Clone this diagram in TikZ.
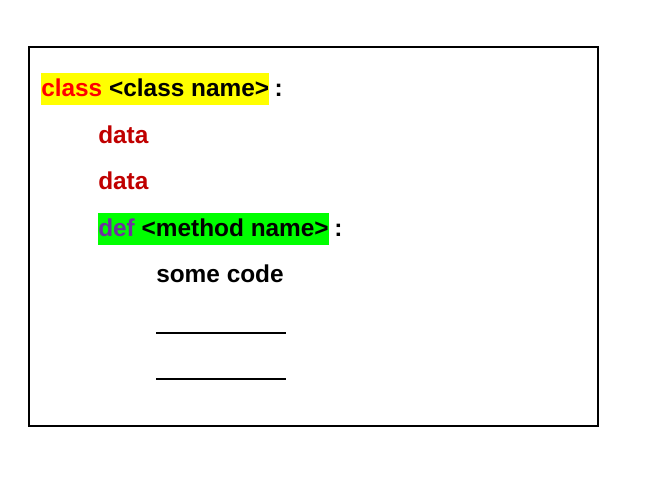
\documentclass[tikz,border=0pt]{standalone}
\usepackage{fontspec}
\setmainfont{Liberation Sans}
\usepackage{xcolor}
\usetikzlibrary{calc}
\definecolor{kwred}{HTML}{FF0000}
\definecolor{datared}{HTML}{C00000}
\definecolor{defpurple}{HTML}{7030A0}
\definecolor{hlyellow}{HTML}{FFFF00}
\definecolor{hlgreen}{HTML}{00FF00}
\tikzset{
	codeline/.style={anchor=base west, inner sep=0pt, font=\fontsize{18.3}{20}\selectfont\bfseries},
	marked/.style={codeline, text height=18pt, text depth=6pt}
}

\begin{document}
\begin{tikzpicture}[x=0.75pt, y=-0.75pt]
	\useasboundingbox (0,0) rectangle (657,488);
	\draw[line width=1.5pt] (29,47) rectangle (598,426);
	\path (41,97) node [marked, fill=hlyellow] (cls) {\textcolor{kwred}{class} <class name>};
	\path ($(cls.base east)+(5,0)$) node [codeline] (clscolon) {:};
	\path (98,144) node [codeline, text=datared] (data1) {data};
	\path (98,190) node [codeline, text=datared] (data2) {data};
	\path (98,237) node [marked, fill=hlgreen] (meth) {\textcolor{defpurple}{def} <method name>};
	\path ($(meth.base east)+(5,0)$) node [codeline] (methcolon) {:};
	\path (156,283) node [codeline] (body) {some code};
	\coordinate (l1a) at (156,333);
	\coordinate (l1b) at (286,333);
	\coordinate (l2a) at (156,379);
	\coordinate (l2b) at (286,379);
	\draw[line width=0.9pt] (l1a) -- (l1b);
	\draw[line width=0.9pt] (l2a) -- (l2b);
\end{tikzpicture}
\end{document}
